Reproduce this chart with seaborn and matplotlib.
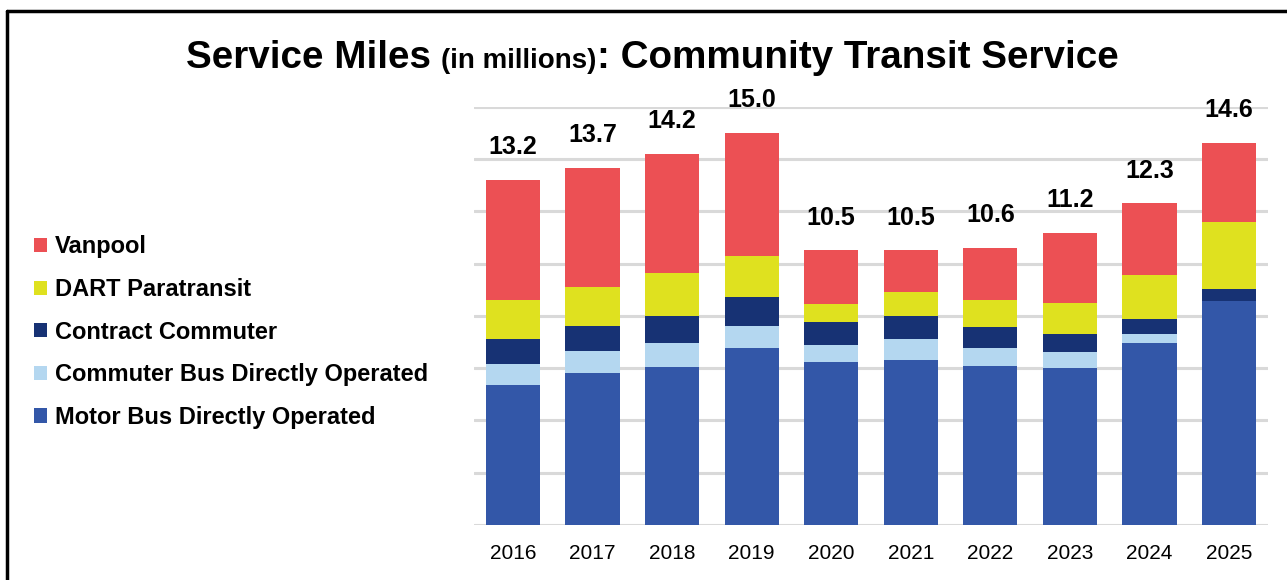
import matplotlib
matplotlib.use("Agg")
import matplotlib.pyplot as plt
import seaborn as sns
import numpy as np
import pandas as pd
from matplotlib.patches import Patch
from matplotlib.lines import Line2D

years = ["2016", "2017", "2018", "2019", "2020", "2021", "2022", "2023", "2024", "2025"]
motor_bus = [5.36, 5.80, 6.06, 6.76, 6.25, 6.30, 6.10, 6.02, 6.96, 8.56]
commuter_bus = [0.80, 0.85, 0.89, 0.85, 0.64, 0.80, 0.66, 0.59, 0.36, 0.00]
contract_commuter = [0.96, 0.96, 1.06, 1.10, 0.87, 0.89, 0.80, 0.70, 0.55, 0.46]
dart_paratransit = [1.49, 1.49, 1.63, 1.59, 0.68, 0.92, 1.03, 1.20, 1.68, 2.58]
vanpool = [4.59, 4.55, 4.56, 4.70, 2.06, 1.59, 2.00, 2.67, 2.75, 3.00]
total_labels = ["13.2", "13.7", "14.2", "15.0", "10.5", "10.5", "10.6", "11.2", "12.3", "14.6"]

series_names = ["Motor Bus Directly Operated", "Commuter Bus Directly Operated",
                "Contract Commuter", "DART Paratransit", "Vanpool"]
series_vals = [motor_bus, commuter_bus, contract_commuter, dart_paratransit, vanpool]
colors = ["#3357A8", "#B4D7F0", "#173274", "#DFE11F", "#EC5054"]

sns.set_theme(style="white")
plt.rcParams["font.family"] = ["Liberation Sans", "DejaVu Sans"]

W, H = 1287, 580
fig = plt.figure(figsize=(W / 100, H / 100), dpi=100)
ax_left, ax_right = 474, 1268
ax_top, ax_bot = 106.7, 525
ax = fig.add_axes([ax_left / W, (H - ax_bot) / H, (ax_right - ax_left) / W, (ax_bot - ax_top) / H])

df = pd.DataFrame({"year": years})
cum = np.zeros(len(years))
cums = []
for vals in series_vals:
    cum = cum + np.array(vals)
    cums.append(cum.copy())

# draw from tallest cumulative down so each layer overlays
for i in range(len(series_vals) - 1, -1, -1):
    df["v"] = cums[i]
    sns.barplot(data=df, x="year", y="v", color=colors[i], ax=ax, width=0.68,
                saturation=1, edgecolor="none", linewidth=0, zorder=3)

# total labels
top_container = ax.containers[0]
ax.bar_label(top_container, labels=total_labels, padding=15, fontsize=18,
             fontweight="bold", color="black")

ax.set_ylim(0, 16)
ax.set_xlim(-0.49, 9.49)
ax.set_yticks(np.arange(0, 17, 2))
ax.yaxis.grid(True, color="#D9D9D9", linewidth=2.2, zorder=0)
ax.set_axisbelow(True)
ax.tick_params(axis="y", left=False, labelleft=False)
ax.tick_params(axis="x", bottom=False, labelsize=15, pad=8, colors="black")
for lab in ax.get_xticklabels():
    lab.set_color("black")
ax.set_xlabel("")
ax.set_ylabel("")
for s in ax.spines.values():
    s.set_visible(False)

# legend
handles = [Patch(facecolor=colors[i], edgecolor="none", label=series_names[i])
           for i in range(len(series_names) - 1, -1, -1)]
leg = fig.legend(handles=handles, loc="upper left",
                 bbox_to_anchor=(25 / W, (H - 226) / H), frameon=False,
                 prop={"weight": "bold", "size": 17}, handlelength=0.55, handleheight=0.55,
                 handletextpad=0.3, labelspacing=0.83, borderaxespad=0)
for t in leg.get_texts():
    t.set_color("black")

# title in three parts
fig.canvas.draw()
renderer = fig.canvas.get_renderer()
parts = [("Service Miles ", 27.8), ("(in millions)", 20), (": Community Transit Service", 27.8)]
ty = (H - 68) / H
texts = []
for s, fs in parts:
    t = fig.text(0, ty, s, fontsize=fs, fontweight="bold", color="black", va="baseline", ha="left")
    texts.append(t)
widths = [t.get_window_extent(renderer).width for t in texts]
total_w = sum(widths)
x0 = 652 - total_w / 2
for t, w in zip(texts, widths):
    t.set_x(x0 / W)
    x0 += w

# frame
fig.add_artist(Line2D([7 / W, 7 / W], [0, (H - 11) / H], color="black", linewidth=2.5,
                      transform=fig.transFigure))
fig.add_artist(Line2D([7 / W, 1], [(H - 11) / H, (H - 11) / H], color="black", linewidth=2.5,
                      transform=fig.transFigure))

fig.savefig("out.png", dpi=100, facecolor="white")
